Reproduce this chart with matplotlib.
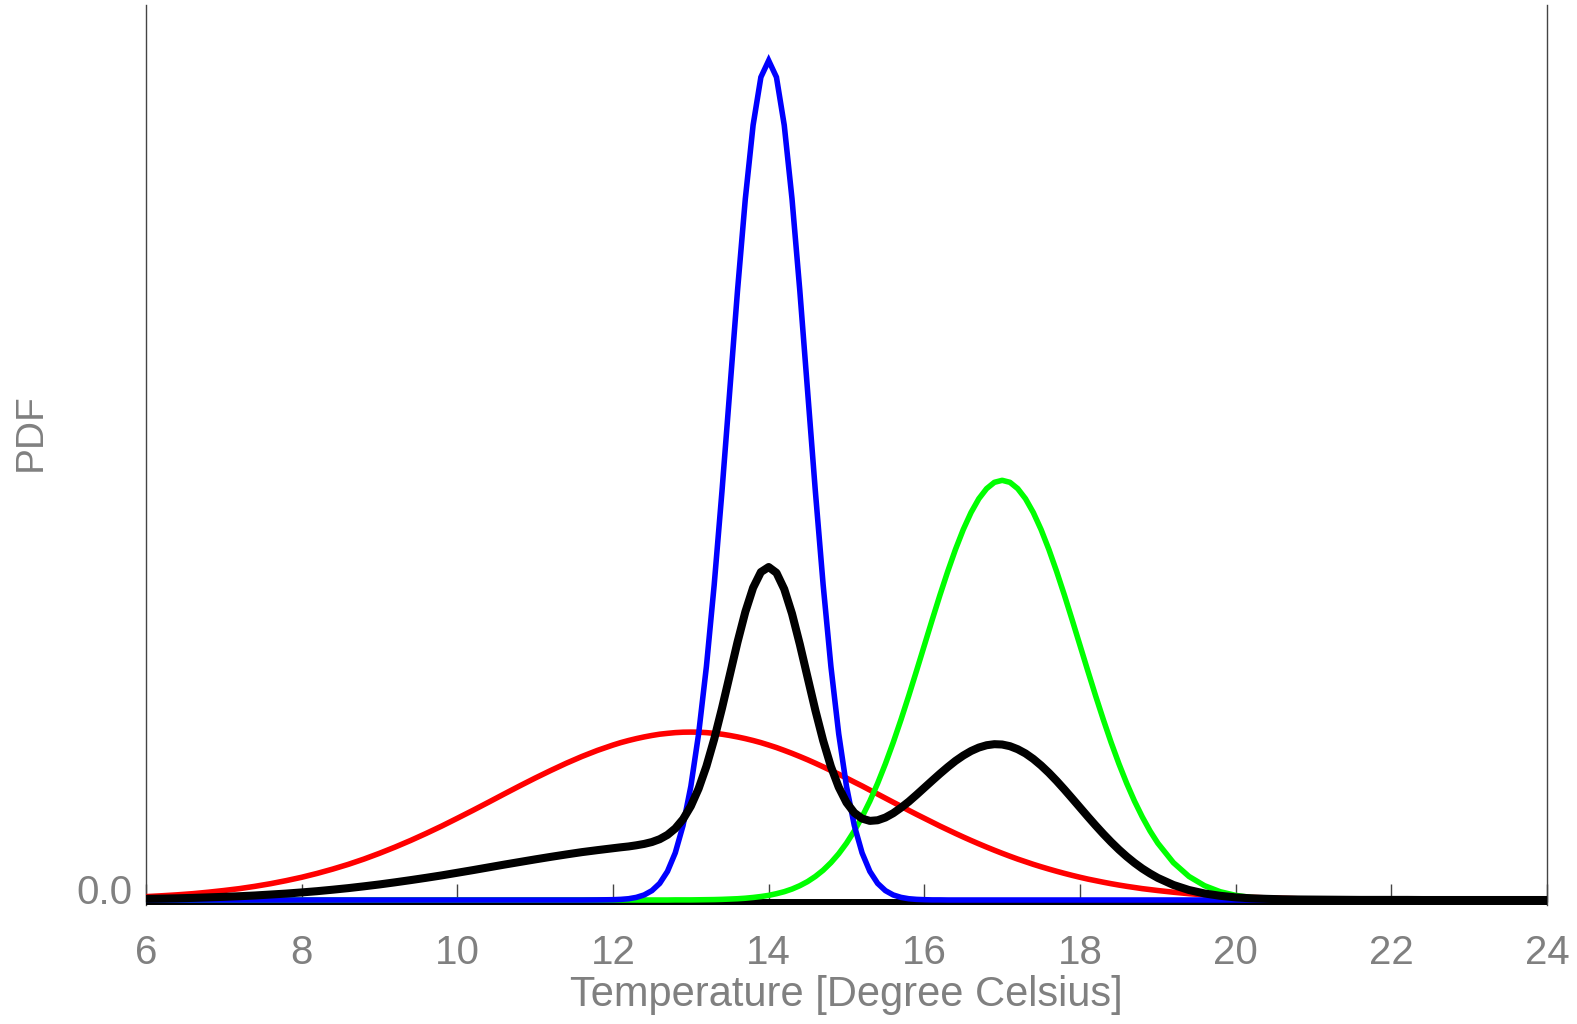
import matplotlib
matplotlib.use("Agg")
import matplotlib.pyplot as plt
from matplotlib.transforms import ScaledTranslation

plt.rcParams['font.family'] = ['Liberation Sans', 'DejaVu Sans']

# temperature grid: 0.2 steps in the tails, 0.1 steps through the peaks
temps = ([round(6.0 + 0.2 * i, 1) for i in range(31)]
         + [round(12.1 + 0.1 * i, 1) for i in range(70)]
         + [round(19.2 + 0.2 * i, 1) for i in range(25)])

pdf_red = [
    # 6.0 .. 12.0
    0.0032, 0.0040, 0.0049, 0.0060, 0.0074, 0.0090, 0.0108, 0.0130, 0.0155, 0.0184,
    0.0216, 0.0253, 0.0294, 0.0339, 0.0389, 0.0444, 0.0503, 0.0566, 0.0633, 0.0703,
    0.0777, 0.0852, 0.0929, 0.1007, 0.1084, 0.1159, 0.1231, 0.1300, 0.1364, 0.1422,
    0.1473,
    # 12.1 .. 19.0
    0.1496, 0.1516, 0.1534, 0.1550, 0.1564, 0.1576, 0.1584, 0.1591, 0.1595, 0.1596,
    0.1595, 0.1591, 0.1584, 0.1576, 0.1564, 0.1550, 0.1534, 0.1516, 0.1496, 0.1473,
    0.1449, 0.1422, 0.1394, 0.1364, 0.1333, 0.1300, 0.1266, 0.1231, 0.1196, 0.1159,
    0.1121, 0.1084, 0.1045, 0.1007, 0.0968, 0.0929, 0.0891, 0.0852, 0.0814, 0.0777,
    0.0740, 0.0703, 0.0668, 0.0633, 0.0599, 0.0566, 0.0534, 0.0503, 0.0473, 0.0444,
    0.0416, 0.0389, 0.0364, 0.0339, 0.0316, 0.0294, 0.0273, 0.0253, 0.0234, 0.0216,
    0.0199, 0.0184, 0.0169, 0.0155, 0.0142, 0.0130, 0.0119, 0.0108, 0.0099, 0.0090,
    # 19.2 .. 24.0
    0.0074, 0.0060, 0.0049, 0.0040, 0.0032, 0.0025, 0.0020, 0.0016, 0.0012, 0.0010,
    0.0007, 0.0006, 0.0004, 0.0003, 0.0002, 0.0002, 0.0001, 0.0001, 0.0001, 0.0001,
    0.0000, 0.0000, 0.0000, 0.0000, 0.0000,
]

pdf_blue = [
    # 6.0 .. 12.0
    0.0, 0.0, 0.0, 0.0, 0.0, 0.0, 0.0, 0.0, 0.0, 0.0,
    0.0, 0.0, 0.0, 0.0, 0.0, 0.0, 0.0, 0.0, 0.0, 0.0,
    0.0, 0.0, 0.0, 0.0, 0.0, 0.0, 0.0, 0.0, 0.0000, 0.0001,
    0.0003,
    # 12.1 .. 19.0
    0.0006, 0.0012, 0.0025, 0.0048, 0.0089, 0.0158, 0.0272, 0.0448, 0.0709, 0.1080,
    0.1579, 0.2218, 0.2995, 0.3884, 0.4839, 0.5794, 0.6664, 0.7365, 0.7821, 0.7979,
    0.7821, 0.7365, 0.6664, 0.5794, 0.4839, 0.3884, 0.2995, 0.2218, 0.1579, 0.1080,
    0.0709, 0.0448, 0.0272, 0.0158, 0.0089, 0.0048, 0.0025, 0.0012, 0.0006, 0.0003,
    0.0001, 0.0001, 0.0000, 0.0, 0.0, 0.0, 0.0, 0.0, 0.0, 0.0,
    0.0, 0.0, 0.0, 0.0, 0.0, 0.0, 0.0, 0.0, 0.0, 0.0,
    0.0, 0.0, 0.0, 0.0, 0.0, 0.0, 0.0, 0.0, 0.0, 0.0,
    # 19.2 .. 24.0
    0.0, 0.0, 0.0, 0.0, 0.0, 0.0, 0.0, 0.0, 0.0, 0.0,
    0.0, 0.0, 0.0, 0.0, 0.0, 0.0, 0.0, 0.0, 0.0, 0.0,
    0.0, 0.0, 0.0, 0.0, 0.0,
]

pdf_green = [
    # 6.0 .. 12.0
    0.0, 0.0, 0.0, 0.0, 0.0, 0.0, 0.0, 0.0, 0.0, 0.0,
    0.0, 0.0, 0.0, 0.0, 0.0, 0.0, 0.0, 0.0, 0.0, 0.0,
    0.0, 0.0, 0.0, 0.0, 0.0, 0.0, 0.0, 0.0, 0.0, 0.0,
    0.0,
    # 12.1 .. 19.0
    0.0, 0.0, 0.0, 0.0, 0.0, 0.0, 0.0000, 0.0001, 0.0001, 0.0001,
    0.0002, 0.0003, 0.0004, 0.0006, 0.0009, 0.0012, 0.0017, 0.0024, 0.0033, 0.0044,
    0.0060, 0.0079, 0.0104, 0.0136, 0.0175, 0.0224, 0.0283, 0.0355, 0.0440, 0.0540,
    0.0656, 0.0790, 0.0940, 0.1109, 0.1295, 0.1497, 0.1714, 0.1942, 0.2179, 0.2420,
    0.2661, 0.2897, 0.3122, 0.3332, 0.3521, 0.3683, 0.3814, 0.3910, 0.3970, 0.3989,
    0.3970, 0.3910, 0.3814, 0.3683, 0.3521, 0.3332, 0.3122, 0.2897, 0.2661, 0.2420,
    0.2179, 0.1942, 0.1714, 0.1497, 0.1295, 0.1109, 0.0940, 0.0790, 0.0656, 0.0540,
    # 19.2 .. 24.0
    0.0355, 0.0224, 0.0136, 0.0079, 0.0044, 0.0024, 0.0012, 0.0006, 0.0003, 0.0001,
    0.0001, 0.0000, 0.0, 0.0, 0.0, 0.0, 0.0, 0.0, 0.0, 0.0,
    0.0, 0.0, 0.0, 0.0, 0.0,
]

# equal-weight mixture of the three
pdf_mix = [
    # 6.0 .. 12.0
    0.0011, 0.0013, 0.0016, 0.0020, 0.0025, 0.0030, 0.0036, 0.0043, 0.0052, 0.0061,
    0.0072, 0.0084, 0.0098, 0.0113, 0.0130, 0.0148, 0.0168, 0.0189, 0.0211, 0.0234,
    0.0259, 0.0284, 0.0310, 0.0336, 0.0361, 0.0386, 0.0410, 0.0433, 0.0455, 0.0474,
    0.0492,
    # 12.1 .. 19.0
    0.0501, 0.0509, 0.0520, 0.0533, 0.0551, 0.0578, 0.0619, 0.0680, 0.0768, 0.0892,
    0.1059, 0.1271, 0.1528, 0.1822, 0.2137, 0.2452, 0.2738, 0.2968, 0.3117, 0.3165,
    0.3110, 0.2955, 0.2721, 0.2431, 0.2116, 0.1803, 0.1515, 0.1268, 0.1072, 0.0926,
    0.0829, 0.0774, 0.0752, 0.0758, 0.0784, 0.0825, 0.0877, 0.0935, 0.1000, 0.1067,
    0.1134, 0.1200, 0.1263, 0.1322, 0.1373, 0.1416, 0.1449, 0.1471, 0.1481, 0.1478,
    0.1462, 0.1433, 0.1393, 0.1341, 0.1279, 0.1209, 0.1132, 0.1050, 0.0965, 0.0879,
    0.0793, 0.0709, 0.0628, 0.0551, 0.0479, 0.0413, 0.0353, 0.0299, 0.0252, 0.0210,
    # 19.2 .. 24.0
    0.0143, 0.0095, 0.0062, 0.0040, 0.0025, 0.0016, 0.0011, 0.0007, 0.0005, 0.0004,
    0.0003, 0.0002, 0.0001, 0.0001, 0.0001, 0.0001, 0.0000, 0.0000, 0.0000, 0.0000,
    0.0000, 0.0000, 0.0000, 0.0000, 0.0000,
]

x_ticks = [6, 8, 10, 12, 14, 16, 18, 20, 22, 24]

grey = '#808080'
frame = '#444444'

fig = plt.figure(figsize=(15.77, 10.24), dpi=100)
ax = fig.add_axes([146 / 1577, 119 / 1024, 1401 / 1577, 900 / 1024])

ax.plot(temps, pdf_red, color='#ff0000', lw=4.0, zorder=3)
ax.plot(temps, pdf_green, color='#00ff00', lw=4.0, zorder=3)
ax.plot(temps, pdf_blue, color='#0000ff', lw=4.0, solid_joinstyle='miter', zorder=3)
ax.plot(temps, pdf_mix, color='black', lw=5.8, zorder=4)

ax.set_xlim(6, 24)
ax.set_ylim(-0.00475, 0.8507)

ax.spines['top'].set_visible(False)
for side in ('left', 'right'):
    ax.spines[side].set_color(frame)
    ax.spines[side].set_linewidth(1.0)
# heavy base line just under zero, beneath the curves
ax.spines['bottom'].set_position(('data', -0.0015))
ax.spines['bottom'].set_color('black')
ax.spines['bottom'].set_linewidth(4.3)
ax.spines['bottom'].set_capstyle('butt')

ax.set_xticks(x_ticks)
ax.set_xticklabels([str(t) for t in x_ticks])
ax.set_yticks([0])
ax.set_yticklabels(['0.0'])
ax.tick_params(axis='x', direction='in', length=13, width=1, color=frame,
               labelsize=29, labelcolor=grey, pad=23)
ax.tick_params(axis='y', direction='in', length=6, width=1, color=frame,
               labelsize=29, labelcolor=grey, pad=10)
for lab in ax.get_yticklabels():
    lab.set_transform(lab.get_transform() + ScaledTranslation(0, 0.11, fig.dpi_scale_trans))

ax.set_xlabel('Temperature [Degree Celsius]', fontsize=30, color=grey)
ax.xaxis.label.set_va('center')
ax.xaxis.set_label_coords(0.5, -0.1)
ax.set_ylabel('PDF', fontsize=28, color=grey)
ax.yaxis.label.set_va('center')
ax.yaxis.set_label_coords(-0.0826, 0.5256)

fig.savefig('out.png', dpi=100)
plt.close(fig)
